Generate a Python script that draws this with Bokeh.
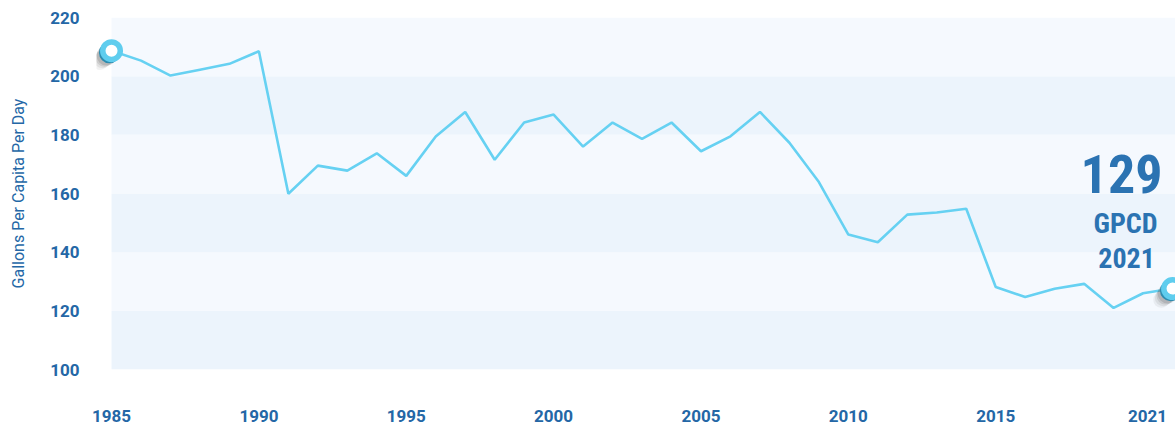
from bokeh.plotting import figure
from bokeh.models import Range1d, FixedTicker, BoxAnnotation, Label, ColumnDataSource
from bokeh.embed import file_html
from bokeh.resources import INLINE

# ---- data ----
years = list(range(1985, 2022))
gpcd = [208.7, 205.3, 200.2, 202.2, 204.2, 208.5, 159.9, 169.5, 167.8, 173.7,
        166.0, 179.4, 187.8, 171.5, 184.2, 186.9, 176.0, 184.2, 178.6, 184.2,
        174.4, 179.5, 187.8, 177.3, 163.9, 146.0, 143.4, 152.8, 153.5, 154.8,
        128.1, 124.7, 127.5, 129.2, 121.0, 126.0, 127.6]
x_ticks = [1985, 1990, 1995, 2000, 2005, 2010, 2015]
last_year_label = "2021"
y_ticks = [100, 120, 140, 160, 180, 200, 220]
headline_value = "129"
headline_unit = "GPCD"
headline_year = "2021"
y_title = "Gallons Per Capita Per Day"

TICK_COLOR = "#2467a6"
HEAD_COLOR = "#2b73b2"
LINE_COLOR = "#66d1f2"
LIGHT_BAND = "#f5f9fe"
DARK_BAND = "#ecf4fc"
COND = "'Roboto Condensed', 'Liberation Sans Narrow', 'DejaVu Sans Condensed', Roboto"

p = figure(width=1175, height=425, output_backend="svg", toolbar_location=None,
           x_range=Range1d(years[0] - 0.51, years[-1] + 0.1),
           y_range=Range1d(y_ticks[0], y_ticks[-1]),
           min_border_left=96, min_border_right=0, min_border_top=17, min_border_bottom=56)
p.outline_line_color = None
p.background_fill_color = "white"
p.border_fill_color = "white"
p.grid.visible = False

# alternating bands (start at the first year)
for i in range(len(y_ticks) - 1):
    p.add_layout(BoxAnnotation(left=years[0], bottom=y_ticks[i], top=y_ticks[i + 1],
                               fill_color=DARK_BAND if i % 2 == 0 else LIGHT_BAND,
                               fill_alpha=1, line_color=None, level="underlay"))

src = ColumnDataSource(dict(x=years, y=gpcd))
p.line("x", "y", source=src, line_color=LINE_COLOR, line_width=2.6)

ends = ColumnDataSource(dict(x=[years[0], years[-1]], y=[gpcd[0], gpcd[-1]]))
# soft shadow towards lower-left
for length, width, alpha in [(16, 16, 0.08), (13, 17, 0.10), (10, 18, 0.14), (7, 20, 0.18)]:
    p.ray("x", "y", source=ends, length=length, length_units="screen", angle=225,
          angle_units="deg", line_color="#555555", line_alpha=alpha, line_width=width,
          line_cap="round")
p.ray("x", "y", source=ends, length=3, length_units="screen", angle=225,
      angle_units="deg", line_color="#2f8db0", line_width=21, line_cap="round")
p.scatter("x", "y", source=ends, size=17.5, fill_color="white", line_color="#5fcdee",
          line_width=5.5)

# axes: the last year's tick label is drawn a little to the left so it fits the canvas
last_tick_pos = years[-1] - 0.85
p.xaxis.ticker = FixedTicker(ticks=x_ticks + [last_tick_pos])
p.xaxis.major_label_overrides = {last_tick_pos: last_year_label}
p.yaxis.ticker = FixedTicker(ticks=y_ticks)
for ax in (p.xaxis, p.yaxis):
    ax.axis_line_color = None
    ax.major_tick_line_color = None
    ax.minor_tick_line_color = None
    ax.major_label_text_font = "Roboto"
    ax.major_label_text_font_style = "bold"
    ax.major_label_text_font_size = "17px"
    ax.major_label_text_color = TICK_COLOR
p.xaxis.major_label_standoff = 34
p.yaxis.major_label_standoff = 11
p.yaxis.axis_label = y_title
p.yaxis.axis_label_text_font = "Roboto"
p.yaxis.axis_label_text_font_style = "normal"
p.yaxis.axis_label_text_font_size = "16px"
p.yaxis.axis_label_text_color = TICK_COLOR
p.yaxis.axis_label_standoff = 19

# headline
p.add_layout(Label(x=years[-1], y=gpcd[-1], x_offset=-51, y_offset=115, text=headline_value,
                   text_align="center", text_baseline="alphabetic", text_font=COND,
                   text_font_style="bold", text_font_size="54px", text_color=HEAD_COLOR))
p.add_layout(Label(x=years[-1], y=gpcd[-1], x_offset=-47, y_offset=65, text=headline_unit,
                   text_align="center", text_baseline="alphabetic", text_font=COND,
                   text_font_style="bold", text_font_size="28px", text_color=HEAD_COLOR))
p.add_layout(Label(x=years[-1], y=gpcd[-1], x_offset=-46, y_offset=31, text=headline_year,
                   text_align="center", text_baseline="alphabetic", text_font=COND,
                   text_font_style="bold", text_font_size="28px", text_color=HEAD_COLOR))

open("out.html", "w").write(file_html(p, INLINE))
